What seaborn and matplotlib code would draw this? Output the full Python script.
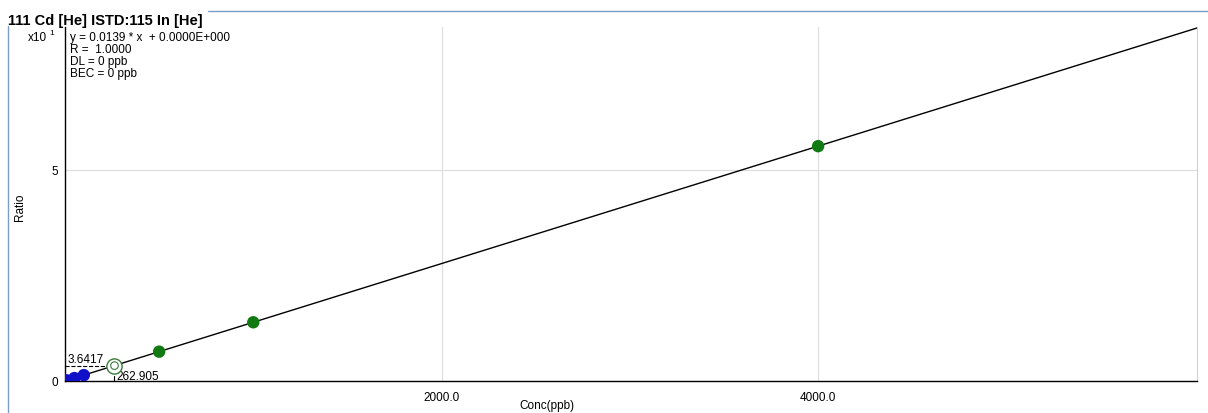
import numpy as np
import pandas as pd
import matplotlib
matplotlib.use("Agg")
import matplotlib.pyplot as plt
import seaborn as sns

# calibration standards (ppb) and measured ratios
std_conc = [0, 1, 5, 10, 50, 100, 500, 1000, 4000]
std_ratio = [0.0, 0.0139, 0.0695, 0.139, 0.695, 1.39, 6.95, 13.9, 55.6]
std_group = ["low", "low", "low", "low", "low", "low", "high", "high", "high"]
sample_conc = [262.905]
sample_ratio = [3.6417]
slope = 0.0139
fit_x = [0, 6100]

sns.set_style("white")
plt.rcParams["font.family"] = ["Liberation Sans", "DejaVu Sans"]
plt.rcParams["text.color"] = "black"
plt.rcParams["xtick.color"] = "black"
plt.rcParams["ytick.color"] = "black"

df = pd.DataFrame({"conc": std_conc, "ratio": std_ratio, "grp": std_group})
fit = pd.DataFrame({"conc": fit_x, "ratio": [slope * v for v in fit_x]})

fig = plt.figure(figsize=(12.08, 4.14), dpi=100)
ax = fig.add_axes([0.0538, 0.0773, 0.9372, 0.855])

ax.grid(True, color="#dcdcdc", lw=0.8)
sns.lineplot(data=fit, x="conc", y="ratio", color="black", lw=1.0, ax=ax, zorder=3)
sns.scatterplot(data=df, x="conc", y="ratio", hue="grp",
                palette={"low": "#1010c8", "high": "#127a12"},
                s=80, edgecolor="none", legend=False, ax=ax, zorder=4)
# unknown sample
ax.scatter(sample_conc, sample_ratio, s=120, facecolor="white", edgecolor="#3a7a3a", lw=1.0, zorder=5)
ax.scatter(sample_conc, sample_ratio, s=30, facecolor="none", edgecolor="#3a7a3a", lw=0.8, zorder=5)
ax.plot([0, sample_conc[0]], [sample_ratio[0], sample_ratio[0]], color="black", ls="--", lw=0.8, zorder=2)
ax.plot([sample_conc[0], sample_conc[0]], [0, 1.2], color="black", lw=0.8, zorder=2)
ax.text(sample_conc[0] + 10, 0.4, "262.905", fontsize=8.5)
ax.text(15, sample_ratio[0] + 0.9, "3.6417", fontsize=8.5)

ax.set_xlim(0, 6013)
ax.set_ylim(0, 83.8)
ax.set_xticks([2000, 4000])
ax.set_xticklabels(["2000.0", "4000.0"], fontsize=8.5)
ax.set_yticks([0, 50])
ax.set_yticklabels(["0", "5"], fontsize=8.5)
ax.tick_params(axis="both", direction="inout", length=6, width=0.8, pad=2)
ax.tick_params(axis="x", pad=4)
for s in ["left", "bottom"]:
    ax.spines[s].set_color("black")
    ax.spines[s].set_linewidth(1.0)
ax.spines["top"].set_visible(False)
ax.spines["right"].set_color("#d0d0d0")
ax.set_xlabel("")
ax.set_ylabel("")

fig.text(0.4528, 0.012, "Conc(ppb)", fontsize=8.5, ha="center")
fig.text(0.012, 0.5, "Ratio", fontsize=8.5, rotation=90, va="center")
fig.text(0.023, 0.9, "x10", fontsize=8.5)
fig.text(0.0405, 0.915, "1", fontsize=6)
ax.text(0.004, 0.99, "y = 0.0139 * x  + 0.0000E+000\nR =  1.0000\nDL = 0 ppb\nBEC = 0 ppb",
        transform=ax.transAxes, fontsize=8.5, va="top", linespacing=1.0)

# outer frame
fig.add_artist(plt.Line2D([0.0066, 0.0066], [0.0, 0.935], color="#7a9cc8", lw=1.0))
fig.add_artist(plt.Line2D([0.172, 1.0], [0.971, 0.971], color="#7a9cc8", lw=1.0))
fig.text(0.007, 0.94, "111 Cd [He] ISTD:115 In [He]", fontsize=10.5, fontweight="bold")

fig.savefig("out.png", dpi=100)
